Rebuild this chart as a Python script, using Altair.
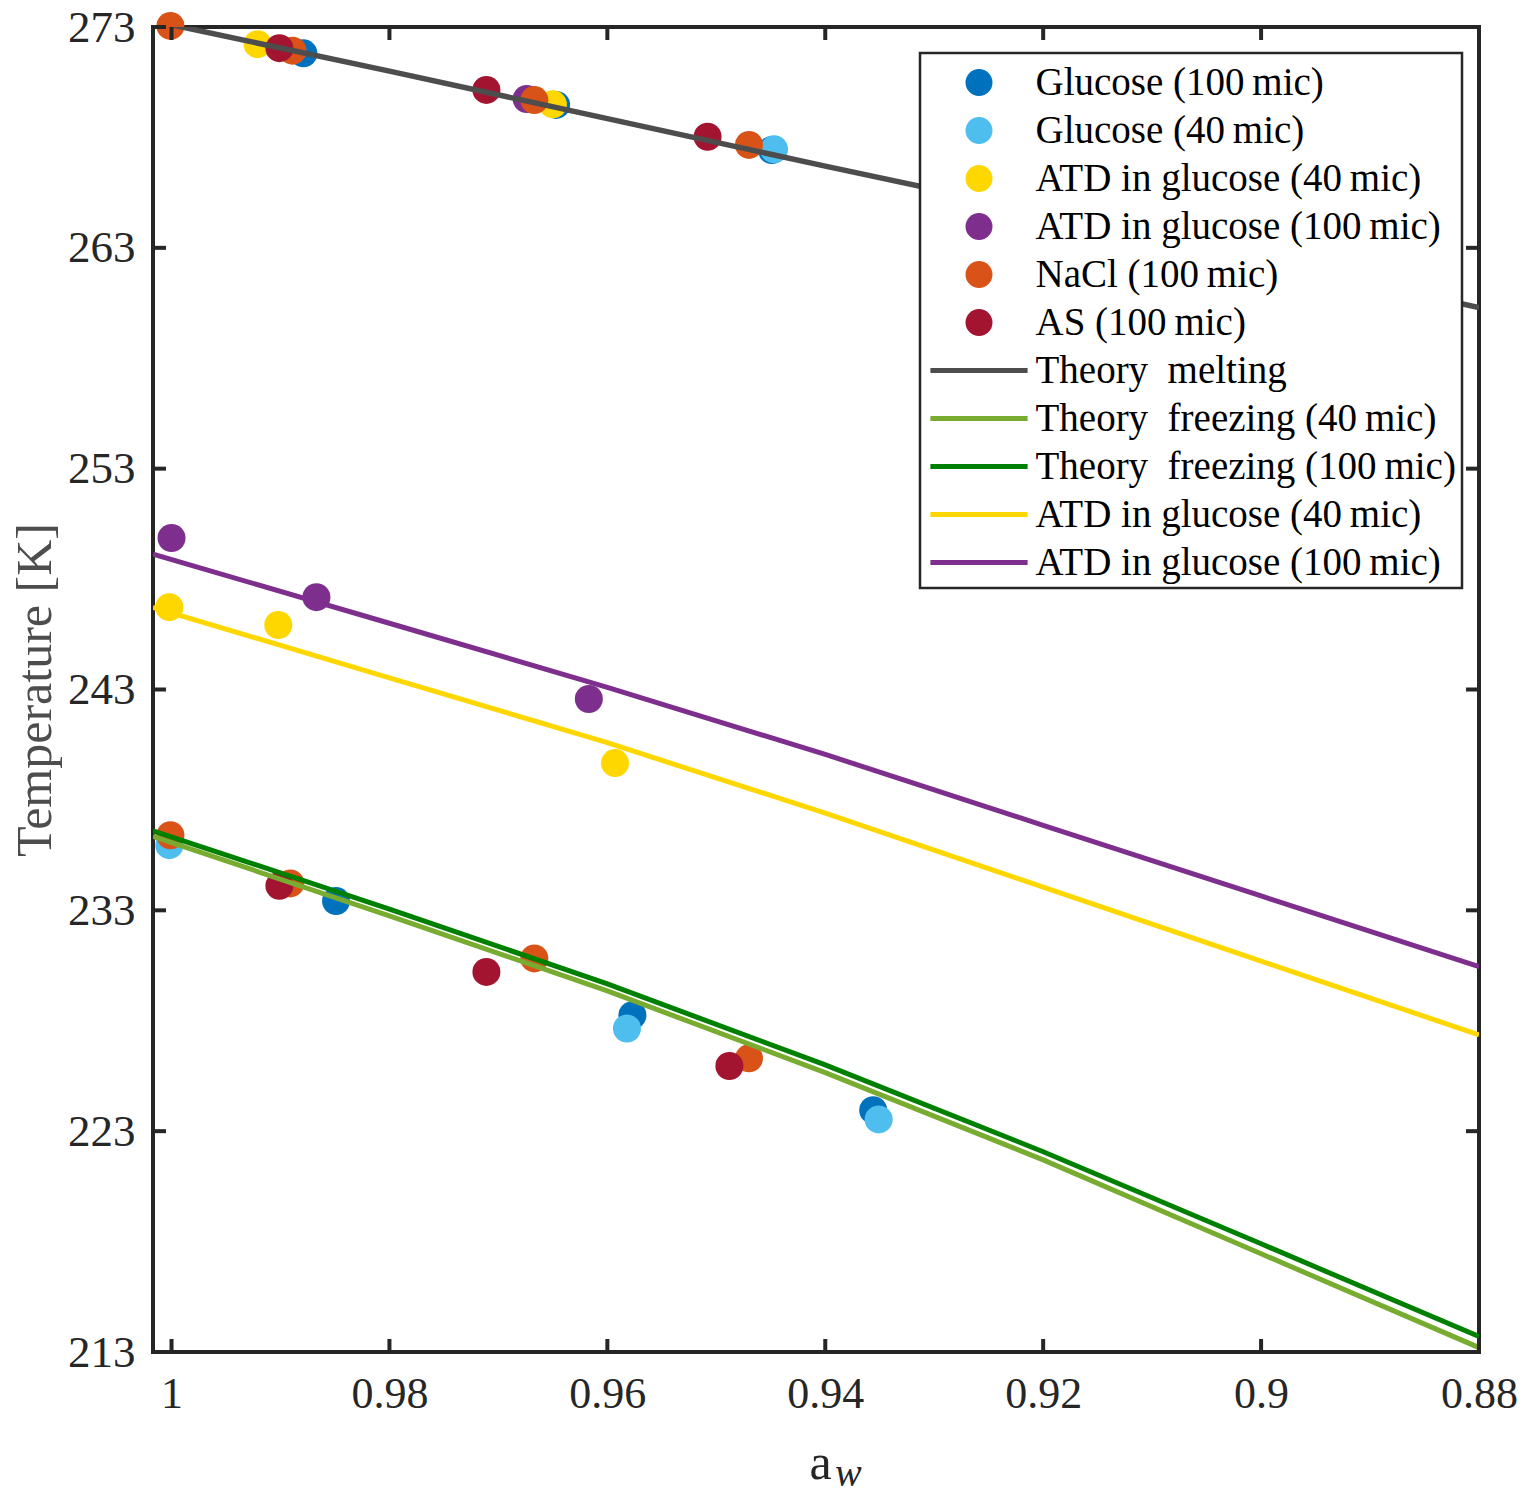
import pandas as pd
import altair as alt

# ==============================
#   DATA
# ==============================
SERIF = "Liberation Serif"
AX = "#262626"

G100 = "Glucose (100\u2009mic)"
G40 = "Glucose (40\u2009mic)"
ATD40 = "ATD in glucose (40\u2009mic)"
ATD100 = "ATD in glucose (100\u2009mic)"
NACL = "NaCl (100\u2009mic)"
AS = "AS (100\u2009mic)"
MELT = "Theory\u00a0\u00a0melting"
FR40 = "Theory\u00a0\u00a0freezing (40\u2009mic)"
FR100 = "Theory\u00a0\u00a0freezing (100\u2009mic)"

glucose100_aw = [0.9879, 0.9647, 0.9449, 0.9849, 0.9577, 0.9356]
glucose100_T = [271.81, 269.47, 267.43, 233.42, 228.25, 223.95]
glucose40_aw = [0.9447, 1.0002, 0.9582, 0.9351]
glucose40_T = [267.46, 235.95, 227.65, 223.53]
atd40_aw = [0.9921, 0.9650, 1.0002, 0.9902, 0.9593]
atd40_T = [272.22, 269.50, 246.73, 245.92, 239.67]
atd100_aw = [0.9674, 1.0000, 0.9867, 0.9617]
atd100_T = [269.74, 249.86, 247.18, 242.57]
nacl_aw = [1.0001, 0.9889, 0.9667, 0.9470, 1.0001, 0.9891, 0.9667, 0.9470]
nacl_T = [273.05, 271.93, 269.69, 267.66, 236.40, 234.22, 230.82, 226.30]
as_aw = [0.9901, 0.9711, 0.9508, 0.9901, 0.9711, 0.9488]
as_T = [272.04, 270.15, 268.03, 234.11, 230.21, 225.95]

melt_aw = [1.0, 0.98, 0.96, 0.94, 0.92, 0.90, 0.88]
melt_T = [273.10, 271.00, 268.85, 266.70, 264.60, 262.45, 260.30]
line_aw = [1.0017, 0.98, 0.96, 0.94, 0.92, 0.90, 0.88]
fr40_T = [236.35, 232.75, 229.35, 225.65, 221.70, 217.45, 213.20]
fr100_T = [236.60, 233.06, 229.67, 226.00, 222.07, 217.90, 213.70]
atd40_line_T = [246.72, 243.53, 240.59, 237.40, 234.05, 230.70, 227.36]
atd100_line_T = [249.13, 246.00, 243.10, 240.06, 236.85, 233.65, 230.45]

x_ticks = [1.0, 0.98, 0.96, 0.94, 0.92, 0.90, 0.88]
y_ticks = [213, 223, 233, 243, 253, 263, 273]

point_names = [G100, G40, ATD40, ATD100, NACL, AS]
point_colors = ["#0072BD", "#4DBEEE", "#FFD700", "#7E2F8E", "#D95319", "#A2142F"]
line_names = [MELT, FR40, FR100, ATD40, ATD100]
line_colors = ["#4D4D4D", "#77AC30", "#008000", "#FFD700", "#7E2F8E"]

W, H = 1326, 1325
TICK = 13
LEG_X, LEG_Y, LEG_W, LEG_H = 767, 26, 542, 535
ROW = 48

# ==============================
#   TABLES
# ==============================
point_sets = [(G100, glucose100_aw, glucose100_T), (G40, glucose40_aw, glucose40_T),
              (ATD40, atd40_aw, atd40_T), (ATD100, atd100_aw, atd100_T),
              (NACL, nacl_aw, nacl_T), (AS, as_aw, as_T)]
points = pd.concat([pd.DataFrame({"aw": a, "T": t, "series": s}) for s, a, t in point_sets],
                   ignore_index=True)

# ==============================
#   ENCODINGS
# ==============================
x_enc = alt.X("aw:Q",
              scale=alt.Scale(domain=[0.88, 1.0017], reverse=True, nice=False, zero=False),
              axis=alt.Axis(values=x_ticks, format="~g", ticks=False, domain=False, grid=False,
                            labelFont=SERIF, labelFontSize=44, labelColor=AX, labelPadding=20,
                            labelFlush=False, title="a", titleFont=SERIF, titleFontSize=50,
                            titleFontWeight="normal", titleColor=AX, titleX=667, titleY=126,
                            titleBaseline="alphabetic"))
y_enc = alt.Y("T:Q",
              scale=alt.Scale(domain=[213, 273], nice=False, zero=False),
              axis=alt.Axis(values=y_ticks, format="d", ticks=False, domain=False, grid=False,
                            labelFont=SERIF, labelFontSize=45, labelColor=AX, labelPadding=18,
                            labelFlush=False, title="Temperature [K]", titleFont=SERIF,
                            titleFontSize=50, titleFontWeight="normal", titleColor="#4D4D4D",
                            titleX=-103, titleBaseline="alphabetic"))

leg_common = dict(title=None, orient="none", direction="vertical", legendX=LEG_X,
                  labelFont=SERIF, labelFontSize=39, labelColor="black", labelLimit=1000,
                  symbolSize=729, symbolOffset=29.5, labelOffset=37, rowPadding=ROW - 40,
                  padding=10)

fill_enc = alt.Fill("series:N", scale=alt.Scale(domain=point_names, range=point_colors),
                    legend=alt.Legend(legendY=LEG_Y, symbolType="circle",
                                      symbolStrokeWidth=0, **leg_common))
stroke_enc = alt.Stroke("series:N", scale=alt.Scale(domain=line_names, range=line_colors),
                        legend=alt.Legend(legendY=LEG_Y + 6 * ROW, symbolType="M-3.6,0H3.6",
                                          symbolStrokeWidth=5, symbolFillColor="transparent",
                                          **leg_common))

def line_layer(name, aw, T, width=5):
    df = pd.DataFrame({"aw": aw, "T": T, "series": name})
    return alt.Chart(df).mark_line(strokeWidth=width, clip=True).encode(
        x=x_enc, y=y_enc, stroke=stroke_enc)

# ==============================
#   LAYERS
# ==============================
atd_lines = [line_layer(ATD40, line_aw, atd40_line_T),
             line_layer(ATD100, line_aw, atd100_line_T)]

dots = alt.Chart(points).mark_circle(size=784, opacity=1).encode(
    x=x_enc, y=y_enc, fill=fill_enc)

theory = [line_layer(MELT, melt_aw, melt_T, 5.5),
          line_layer(FR40, line_aw, fr40_T),
          line_layer(FR100, line_aw, fr100_T)]

# white box behind the two legends
legend_box = alt.Chart(pd.DataFrame({"k": [0]})).mark_rect(
    fill="white", stroke=AX, strokeWidth=2.5
).encode(x=alt.value(LEG_X), x2=alt.value(LEG_X + LEG_W),
         y=alt.value(LEG_Y), y2=alt.value(LEG_Y + LEG_H))

xt = pd.DataFrame({"aw": x_ticks})
yt = pd.DataFrame({"T": y_ticks})
tick_bottom = alt.Chart(xt).mark_rule(color=AX, strokeWidth=4).encode(
    x=x_enc, y=alt.value(H), y2=alt.value(H - TICK))
tick_top = alt.Chart(xt).mark_rule(color=AX, strokeWidth=4).encode(
    x=x_enc, y=alt.value(0), y2=alt.value(TICK))
tick_left = alt.Chart(yt).mark_rule(color=AX, strokeWidth=4).encode(
    y=y_enc, x=alt.value(0), x2=alt.value(TICK))
tick_right = alt.Chart(yt).mark_rule(color=AX, strokeWidth=4).encode(
    y=y_enc, x=alt.value(W), x2=alt.value(W - TICK))

# subscript "w" of the x-axis title a_w
sub = alt.Chart(pd.DataFrame({"t": ["w"]})).mark_text(
    font=SERIF, fontStyle="italic", fontSize=40, align="left", baseline="alphabetic", color=AX
).encode(text="t:N", x=alt.value(682), y=alt.value(1459))

chart = alt.layer(
    *atd_lines, dots, *theory, legend_box,
    tick_bottom, tick_top, tick_left, tick_right, sub
).properties(
    width=W, height=H,
    autosize=alt.AutoSizeParams(type="none"),
    padding={"left": 145, "top": 19, "right": 38, "bottom": 138},
).configure(font=SERIF, background="white").configure_view(stroke=AX, strokeWidth=4)

chart.save("out.html", embed_options={"renderer": "svg", "actions": False})
